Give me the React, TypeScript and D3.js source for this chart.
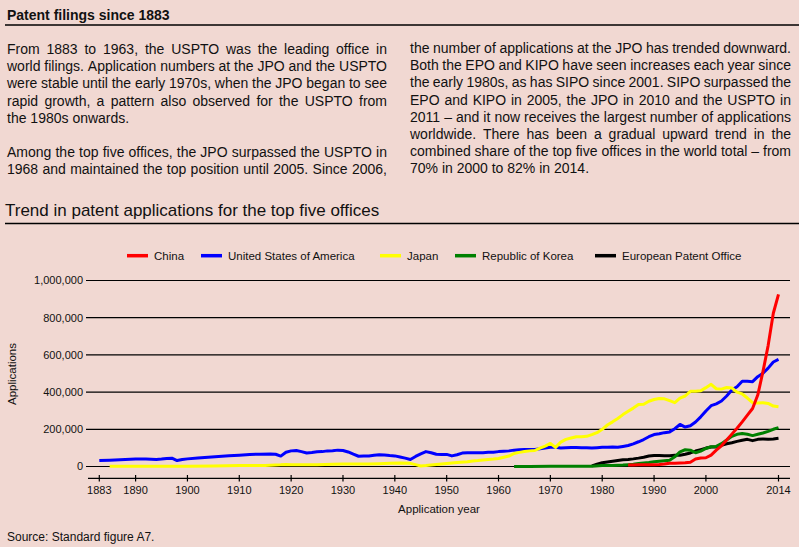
import React from 'react';
import * as d3 from 'd3';

const W = 799;
const H = 547;
const FONT = "'Liberation Sans', Arial, Helvetica, sans-serif";
const BG = '#f1d8d2';
const INK = '#111111';

// ---------- text ----------
const heading = 'Patent filings since 1883';
const chartTitle = 'Trend in patent applications for the top five offices';
const source = 'Source: Standard figure A7.';
const xAxisTitle = 'Application year';
const yAxisTitle = 'Applications';

// [text, justified]
const leftColumn: [string, boolean][] = [
  ['From 1883 to 1963, the USPTO was the leading office in', true],
  ['world filings. Application numbers at the JPO and the USPTO', true],
  ['were stable until the early 1970s, when the JPO began to see', true],
  ['rapid growth, a pattern also observed for the USPTO from', true],
  ['the 1980s onwards.', false],
  ['', false],
  ['Among the top five offices, the JPO surpassed the USPTO in', true],
  ['1968 and maintained the top position until 2005. Since 2006,', true],
];
const rightColumn: [string, boolean][] = [
  ['the number of applications at the JPO has trended downward.', true],
  ['Both the EPO and KIPO have seen increases each year since', true],
  ['the early 1980s, as has SIPO since 2001. SIPO surpassed the', true],
  ['EPO and KIPO in 2005, the JPO in 2010 and the USPTO in', true],
  ['2011 \u2013 and it now receives the largest number of applications', true],
  ['worldwide. There has been a gradual upward trend in the', true],
  ['combined share of the top five offices in the world total \u2013 from', true],
  ['70% in 2000 to 82% in 2014.', false],
];

// ---------- axes ----------
const xTicks = [1883, 1890, 1900, 1910, 1920, 1930, 1940, 1950, 1960, 1970, 1980, 1990, 2000, 2014];
const yTicks = [0, 200000, 400000, 600000, 800000, 1000000];

// ---------- data (thousands of applications) ----------
const UNIT = 1000;
const seriesNames = ['China', 'United States of America', 'Japan', 'Republic of Korea', 'European Patent Office'];
const seriesColors = ['#ff0000', '#0000ff', '#ffff00', '#008000', '#000000'];

const usaYears = [
  1883, 1885, 1887, 1889, 1890, 1892, 1894, 1895, 1896, 1897, 1898, 1899, 1900, 1902, 1904, 1906, 1908, 1910,
  1912, 1914, 1916, 1917, 1918, 1919, 1920, 1921, 1922, 1923, 1924, 1925, 1926, 1927, 1928, 1929, 1930, 1931,
  1932, 1933, 1934, 1935, 1936, 1937, 1938, 1939, 1940, 1941, 1942, 1943, 1944, 1945, 1946, 1947, 1948, 1949,
  1950, 1951, 1952, 1953, 1954, 1955, 1956, 1957, 1958, 1959, 1960, 1961, 1962, 1963, 1964, 1965, 1966, 1967,
  1968, 1969, 1970, 1971, 1972, 1973, 1974, 1975, 1976, 1977, 1978, 1979, 1980, 1981, 1982, 1983, 1984, 1985,
  1986, 1987, 1988, 1989, 1990, 1991, 1992, 1993, 1994, 1995, 1996, 1997, 1998, 1999, 2000, 2001, 2002, 2003,
  2004, 2005, 2006, 2007, 2008, 2009, 2010, 2011, 2012, 2013, 2014,
];
const usaValues = [
  32, 34, 36, 39, 40, 40, 38, 40, 43, 45, 32, 38, 41, 46, 50, 54, 58, 61,
  65, 66, 67, 66, 56, 77, 84, 86, 80, 73, 75, 79, 80, 84, 85, 88, 86, 78,
  66, 55, 56, 57, 60, 63, 62, 59, 57, 51, 45, 38, 54, 68, 80, 74, 66, 65,
  65, 57, 63, 72, 74, 74, 74, 74, 76, 77, 80, 82, 84, 88, 90, 92, 91, 92,
  95, 100, 103, 103, 100, 101, 102, 102, 101, 101, 99, 101, 103, 104, 105, 103, 108, 113,
  122, 133, 145, 160, 172, 176, 182, 186, 203, 226, 212, 219, 239, 267, 298, 327, 337, 352,
  379, 411, 429, 458, 458, 456, 483, 501, 529, 562, 576,
];

const japanYears = [
  1885, 1890, 1895, 1900, 1905, 1910, 1915, 1917, 1918, 1919, 1920, 1922, 1925, 1928, 1930, 1933, 1935, 1937,
  1939, 1941, 1943, 1944, 1945, 1946, 1947, 1948, 1950, 1952, 1954, 1955, 1956, 1957, 1958, 1959, 1960, 1961,
  1962, 1963, 1964, 1965, 1966, 1967, 1968, 1969, 1970, 1971, 1972, 1973, 1974, 1975, 1976, 1977, 1978, 1979,
  1980, 1981, 1982, 1983, 1984, 1985, 1986, 1987, 1988, 1989, 1990, 1991, 1992, 1993, 1994, 1995, 1996, 1997,
  1998, 1999, 2000, 2001, 2002, 2003, 2004, 2005, 2006, 2007, 2008, 2009, 2010, 2011, 2012, 2013, 2014,
];
const japanValues = [
  1, 1, 1, 2, 3, 5, 6, 8, 9, 11, 10, 9, 10, 12, 13, 14, 14, 15,
  17, 19, 17, 10, 3, 5, 8, 11, 16, 21, 25, 30, 32, 35, 38, 40, 43, 50,
  56, 70, 76, 81, 84, 86, 99, 110, 124, 103, 131, 146, 153, 160, 160, 162, 171, 182,
  200, 223, 240, 258, 279, 297, 314, 333, 335, 351, 360, 366, 364, 354, 343, 368, 379, 404,
  404, 407, 424, 442, 418, 416, 425, 422, 400, 390, 368, 343, 341, 343, 339, 325, 321,
];

const chinaYears = [
  1985, 1986, 1987, 1988, 1989, 1990, 1991, 1992, 1993, 1994, 1995, 1996, 1997, 1998, 1999, 2000, 2001, 2002,
  2003, 2004, 2005, 2006, 2007, 2008, 2009, 2010, 2011, 2012, 2013, 2014,
];
const chinaValues = [
  8, 8, 9, 9, 9, 10, 11, 13, 17, 18, 19, 20, 23, 40, 46, 47, 61, 88,
  111, 142, 174, 206, 240, 276, 312, 384, 510, 650, 824, 925,
];

const koreaYears = [
  1963, 1966, 1970, 1973, 1976, 1978, 1980, 1982, 1984, 1985, 1986, 1987, 1988, 1989, 1990, 1991, 1992, 1993,
  1994, 1995, 1996, 1997, 1998, 1999, 2000, 2001, 2002, 2003, 2004, 2005, 2006, 2007, 2008, 2009, 2010, 2011,
  2012, 2013, 2014,
];
const koreaValues = [
  0.5, 0.5, 1, 1.5, 2, 2, 5, 6, 8, 10, 12, 16, 19, 21, 25, 28, 31, 34,
  52, 79, 90, 88, 74, 83, 97, 106, 108, 123, 142, 162, 173, 177, 173, 166, 173, 180,
  189, 200, 209,
];

const epoYears = [
  1978, 1979, 1980, 1981, 1982, 1983, 1984, 1985, 1986, 1987, 1988, 1989, 1990, 1991, 1992, 1993, 1994, 1995,
  1996, 1997, 1998, 1999, 2000, 2001, 2002, 2003, 2004, 2005, 2006, 2007, 2008, 2009, 2010, 2011, 2012, 2013,
  2014,
];
const epoValues = [
  3, 12, 20, 24, 28, 32, 36, 38, 41, 45, 50, 56, 59, 59, 58, 58, 60, 61,
  66, 73, 83, 91, 99, 105, 105, 114, 122, 128, 135, 141, 146, 139, 146, 148, 146, 148,
  152,
];

const seriesYears = [chinaYears, usaYears, japanYears, koreaYears, epoYears];
const seriesValues = [chinaValues, usaValues, japanValues, koreaValues, epoValues];
// drawing order (bottom to top)
const drawOrder = [4, 3, 1, 2, 0];

// ---------- helpers ----------
let measureCtx: CanvasRenderingContext2D | null = null;
function measure(text: string, size: number): number {
  if (!measureCtx) {
    const c = document.createElement('canvas');
    measureCtx = c.getContext('2d');
  }
  if (!measureCtx) return text.length * size * 0.5;
  measureCtx.font = `${size}px 'Liberation Sans'`;
  return measureCtx.measureText(text).width;
}

function Paragraph({ lines, x, y0, width, lh, size }: { lines: [string, boolean][]; x: number; y0: number; width: number; lh: number; size: number }) {
  return (
    <g fontSize={size} fill={INK}>
      {lines.map(([t, j], i) => {
        const y = y0 + i * lh;
        if (!t) return null;
        if (!j) return <text key={i} x={x} y={y}>{t}</text>;
        const words = t.split(' ');
        const widths = words.map((w) => measure(w, size));
        const total = d3.sum(widths);
        const gap = (width - total) / (words.length - 1);
        let cx = x;
        return (
          <text key={i} y={y}>
            {words.map((w, k) => {
              const el = <tspan key={k} x={cx}>{w}</tspan>;
              cx += widths[k] + gap;
              return el;
            })}
          </text>
        );
      })}
    </g>
  );
}

export default function App() {
  const x = d3.scaleLinear().domain([1883, 2014]).range([99.3, 778.5]);
  const y = d3.scaleLinear().domain([0, 1000000]).range([466.5, 280.5]);
  const fmt = d3.format(',');
  const line = d3
    .line<[number, number]>()
    .x((d) => x(d[0]))
    .y((d) => y(d[1] * UNIT));

  const legendX = [127, 201, 380, 455, 595];

  return (
    <svg
      width={W}
      height={H}
      viewBox={`0 0 ${W} ${H}`}
      style={{ position: 'absolute', left: 0, top: 0, display: 'block' }}
      fontFamily={FONT}
    >
      <rect x={0} y={0} width={W} height={H} fill={BG} />

      {/* header */}
      <text x={7} y={20} fontSize={14} fontWeight="bold" fill={INK}>{heading}</text>
      <line x1={5} x2={799} y1={25} y2={25} stroke="#000" strokeWidth={1.3} />

      <Paragraph lines={leftColumn} x={7} y0={54} width={380} lh={17.2} size={14} />
      <Paragraph lines={rightColumn} x={410} y0={53} width={381} lh={17.2} size={14} />

      {/* chart title */}
      <text x={5} y={216} fontSize={17} fill={INK}>{chartTitle}</text>
      <line x1={5} x2={799} y1={223.5} y2={223.5} stroke="#000" strokeWidth={1.3} />

      {/* legend */}
      <g fontSize={11.5} fill={INK}>
        {seriesNames.map((n, i) => (
          <g key={n}>
            <line x1={legendX[i]} x2={legendX[i] + 21} y1={255.7} y2={255.7} stroke={seriesColors[i]} strokeWidth={3.5} />
            <text x={legendX[i] + 27} y={259.8}>{n}</text>
          </g>
        ))}
      </g>

      {/* gridlines + y labels */}
      <g>
        {yTicks.map((t) => (
          <g key={t}>
            <line x1={86} x2={790} y1={y(t)} y2={y(t)} stroke="#000" strokeWidth={1.2} />
            <text x={83} y={y(t)} dy="0.36em" textAnchor="end" fontSize={11} fill={INK}>{fmt(t)}</text>
          </g>
        ))}
      </g>

      {/* x axis */}
      <line x1={88} x2={790} y1={478.3} y2={478.3} stroke="#000" strokeWidth={1.2} />
      {xTicks.map((t) => (
        <g key={t}>
          <line x1={x(t)} x2={x(t)} y1={475} y2={481.5} stroke="#000" strokeWidth={1.2} />
          <text x={x(t)} y={494} textAnchor="middle" fontSize={11} fill={INK}>{t}</text>
        </g>
      ))}

      <text x={439} y={512.5} textAnchor="middle" fontSize={11.5} fill={INK}>{xAxisTitle}</text>
      <text transform="translate(16,374) rotate(-90)" textAnchor="middle" fontSize={11.5} fill={INK}>{yAxisTitle}</text>

      {/* series */}
      <g fill="none" strokeWidth={3} strokeLinejoin="round">
        {drawOrder.map((i) => {
          const pts: [number, number][] = seriesYears[i].map((yr, k) => [yr, seriesValues[i][k]]);
          return <path key={i} d={line(pts) || ''} stroke={seriesColors[i]} />;
        })}
      </g>

      <text x={7} y={541} fontSize={12} fill={INK}>{source}</text>
    </svg>
  );
}
